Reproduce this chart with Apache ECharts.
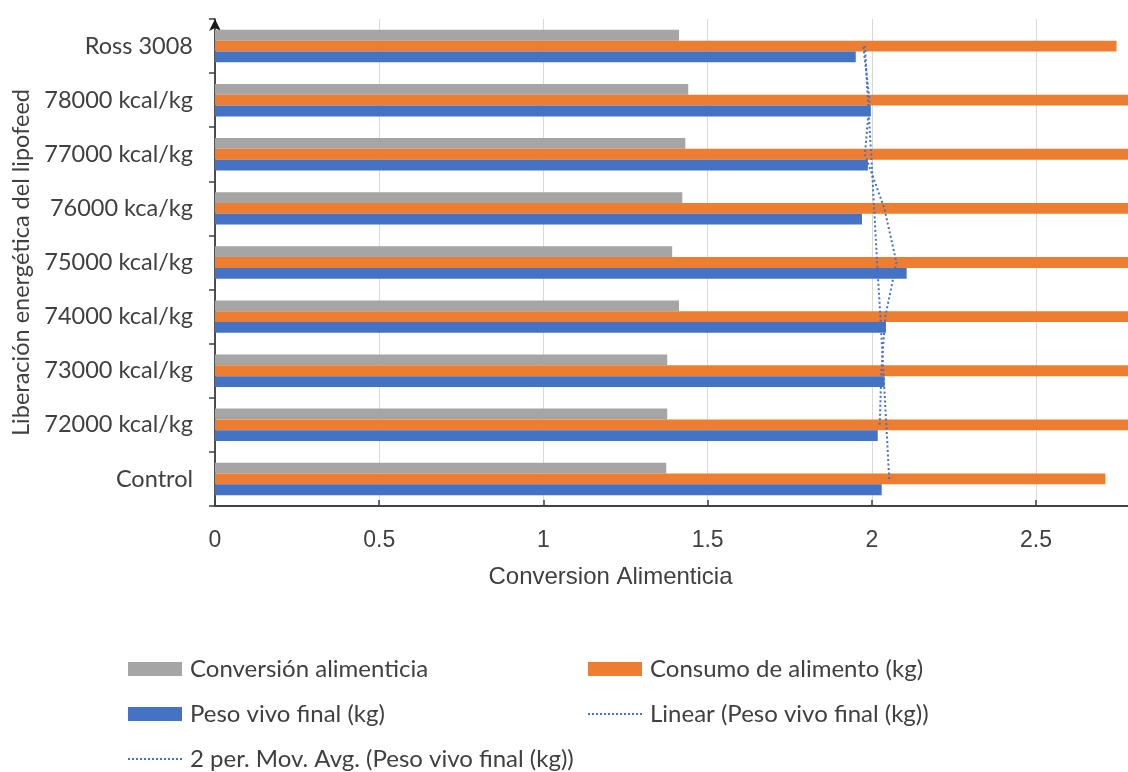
<!DOCTYPE html>
<html>
<head>
<meta charset="utf-8">
<script src="https://cdn.jsdelivr.net/npm/echarts@6/dist/echarts.min.js"></script>
<style>
html,body{margin:0;padding:0;background:#fff;}
#chart{width:1128px;height:772px;}
</style>
</head>
<body>
<div id="chart"></div>
<script>
const categories = ['Control', '72000 kcal/kg', '73000 kcal/kg', '74000 kcal/kg', '75000 kcal/kg', '76000 kca/kg', '77000 kcal/kg', '78000 kcal/kg', 'Ross 3008'];
const conversion = [1.374, 1.377, 1.377, 1.413, 1.392, 1.423, 1.432, 1.441, 1.413];
const consumo = [2.711, 2.86, 2.84, 2.88, 2.92, 2.87, 2.89, 2.86, 2.745];
const peso = [2.030, 2.018, 2.039, 2.043, 2.106, 1.970, 1.988, 1.997, 1.951];
const linearTrend = [2.053, 2.044, 2.035, 2.026, 2.016, 2.007, 1.998, 1.988, 1.979];
const movAvg = ['-', 2.024, 2.029, 2.041, 2.075, 2.038, 1.979, 1.993, 1.974];
const xTicks = [0, 0.5, 1, 1.5, 2, 2.5];

const names = {
  conv: 'Conversión alimenticia',
  cons: 'Consumo de alimento (kg)',
  peso: 'Peso vivo final (kg)',
  lin: 'Linear (Peso vivo final (kg))',
  mov: '2 per. Mov. Avg. (Peso vivo final (kg))'
};

const calibri = 'Lato, "Open Sans", sans-serif';
const arial = '"Liberation Sans", Arial, sans-serif';

const chart = echarts.init(document.getElementById('chart'), null, {renderer: 'canvas'});
const dotStyle = {color: '#4472C4', width: 2, type: [2, 2.5]};
const legendText = {fontFamily: calibri, fontSize: 24, color: '#404040', lineHeight: 26, padding: [0, 0, 0, 3]};

let dotPath = 'path://';
for (let i = 0; i < 14; i++) { dotPath += 'M' + (i * 2) + ',0h1v1h-1z'; }

function makeLegend(name, left, centerY, isLine) {
  return {
    orient: 'horizontal', left: left, top: centerY - 13, padding: 0,
    itemWidth: 54, itemHeight: isLine ? 2 : 14,
    data: [{name: name, icon: isLine ? dotPath : 'rect'}],
    textStyle: legendText, selectedMode: false
  };
}

chart.setOption({
  animation: false,
  backgroundColor: '#ffffff',
  grid: {left: 215, top: 19, right: 0, bottom: 266, containLabel: false},
  legend: [
    makeLegend(names.conv, 128, 669, false),
    makeLegend(names.peso, 128, 714, false),
    makeLegend(names.mov, 128, 759, true),
    makeLegend(names.cons, 588, 669, false),
    makeLegend(names.lin, 588, 714, true)
  ],
  xAxis: {
    type: 'value', min: 0, max: 2.78, interval: 0.5,
    name: 'Conversion Alimenticia', nameLocation: 'middle', nameGap: 59,
    nameTextStyle: {fontFamily: arial, fontSize: 24, color: '#404040', padding: [0, 122, 0, 0]},
    axisLine: {show: true, lineStyle: {color: '#404040', width: 2}},
    axisTick: {show: true, inside: true, length: 6, lineStyle: {color: '#404040', width: 1.5}},
    axisLabel: {
      margin: 23, fontFamily: arial, fontSize: 23, color: '#404040', showMaxLabel: false,
      formatter: function (v) { return xTicks.indexOf(Math.round(v * 100) / 100) >= 0 ? String(v) : ''; }
    },
    splitLine: {show: true, lineStyle: {color: '#d9d9d9', width: 1}}
  },
  yAxis: {
    type: 'category', data: categories,
    name: 'Liberación energética del lipofeed', nameLocation: 'middle', nameRotate: 90, nameGap: 178,
    nameTextStyle: {fontFamily: calibri, fontSize: 23.5, color: '#404040'},
    axisLine: {show: true, symbol: ['none', 'arrow'], symbolSize: [9, 12], symbolOffset: [0, 0],
      lineStyle: {color: '#1a1a1a', width: 1.5}},
    axisTick: {show: true, inside: false, length: 6, lineStyle: {color: '#404040', width: 1.5}},
    axisLabel: {margin: 22, fontFamily: calibri, fontSize: 23.5, color: '#404040'},
    splitLine: {show: false}
  },
  series: [
    {name: names.conv, type: 'bar', data: conversion, itemStyle: {color: '#A5A5A5'},
      barGap: '0%', barCategoryGap: '40%'},
    {name: names.cons, type: 'bar', data: consumo, itemStyle: {color: '#ED7D31'},
      barGap: '0%', barCategoryGap: '40%'},
    {name: names.peso, type: 'bar', data: peso, itemStyle: {color: '#4472C4'},
      barGap: '0%', barCategoryGap: '40%'},
    {name: names.lin, type: 'line', data: linearTrend, symbol: 'none', z: 5,
      lineStyle: dotStyle, itemStyle: {color: '#4472C4'}},
    {name: names.mov, type: 'line', data: movAvg, symbol: 'none', z: 5,
      lineStyle: dotStyle, itemStyle: {color: '#4472C4'}}
  ]
});
</script>
</body>
</html>
